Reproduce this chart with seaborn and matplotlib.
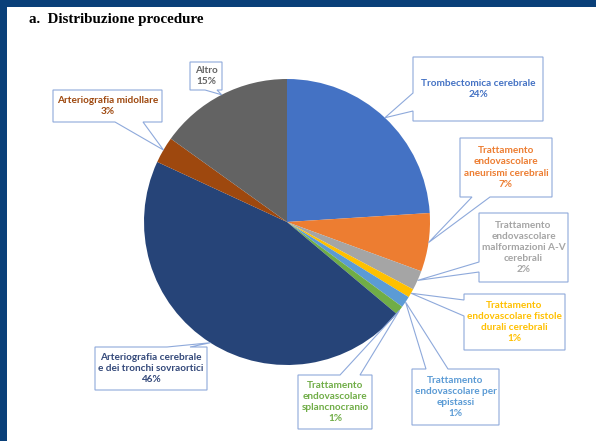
import numpy as np
import matplotlib
matplotlib.use("Agg")
import matplotlib.pyplot as plt
import seaborn as sns
from matplotlib.patches import Rectangle, Polygon

# ---------------- data ----------------
categories = [
    "Trombectomica cerebrale",
    "Trattamento\nendovascolare\naneurismi cerebrali",
    "Trattamento\nendovascolare\nmalformazioni A-V\ncerebrali",
    "Trattamento\nendovascolare fistole\ndurali cerebrali",
    "Trattamento\nendovascolare per\nepistassi",
    "Trattamento\nendovascolare\nsplancnocranio",
    "Arteriografia cerebrale\ne dei tronchi sovraortici",
    "Arteriografia midollare",
    "Altro",
]
values = [24.0, 6.6, 2.2, 1.0, 1.3, 1.0, 45.8, 3.0, 15.1]
pct_labels = ["24%", "7%", "2%", "1%", "1%", "1%", "46%", "3%", "15%"]
title = "a.  Distribuzione procedure"

slice_colors = ["#4472C4", "#ED7D31", "#A5A5A5", "#FFC000", "#5B9BD5",
                "#70AD47", "#264478", "#9E480E", "#636363"]
text_colors = ["#4472C4", "#ED7D31", "#A5A5A5", "#FFC000", "#5B9BD5",
               "#70AD47", "#34497A", "#9E480E", "#636363"]

# label boxes (image px: x0, y0, x1, y1) and callout base (side, a, b)
boxes = [
    (413, 57, 543, 121), (460, 138, 552, 197), (479, 213, 568, 282),
    (464, 294, 565, 350), (412, 369, 499, 425), (298, 375, 372, 429),
    (95, 347, 207, 390), (53, 90, 162, 122), (190, 62, 222, 90),
]
bases = [
    ("left", 93, 111), ("bottom", 472, 490), ("left", 262, 272),
    ("left", 300, 316), ("top", 426, 448), ("top", 340, 360),
    ("top", 167, 190), ("bottom", 115, 143), ("bottom", 205, 217),
]

W, H = 596, 441
sns.set_theme(style="white")
plt.rcParams["font.family"] = ["Lato", "DejaVu Sans"]

fig = plt.figure(figsize=(W / 100, H / 100), dpi=100)
fig.patch.set_facecolor("white")

# pie axes: centre (287,222) px, radius 143 px
cx, cy, r = 287, 222, 143
ax = fig.add_axes([(cx - r) / W, (H - cy - r) / H, 2 * r / W, 2 * r / H])
wedges, _ = ax.pie(values, colors=slice_colors, startangle=90, counterclock=False,
                   radius=1.0, wedgeprops=dict(linewidth=0))
ax.set_xlim(-1, 1)
ax.set_ylim(-1, 1)
ax.set_axis_off()

def img2fig(x, y):
    return (x / W, 1 - y / H)

to_fig = ax.transData + fig.transFigure.inverted()
edge_col = "#8EA9DB"

for i, w in enumerate(wedges):
    mid = np.deg2rad((w.theta1 + w.theta2) / 2)
    anchor = to_fig.transform((np.cos(mid), np.sin(mid)))
    x0, y0, x1, y1 = boxes[i]
    side, a, b = bases[i]
    TL, TR, BR, BL = img2fig(x0, y0), img2fig(x1, y0), img2fig(x1, y1), img2fig(x0, y1)
    if side == "top":
        pts = [TL, img2fig(a, y0), anchor, img2fig(b, y0), TR, BR, BL]
    elif side == "right":
        pts = [TL, TR, img2fig(x1, a), anchor, img2fig(x1, b), BR, BL]
    elif side == "bottom":
        pts = [TL, TR, BR, img2fig(b, y1), anchor, img2fig(a, y1), BL]
    else:
        pts = [TL, TR, BR, BL, img2fig(x0, b), anchor, img2fig(x0, a)]
    poly = Polygon(pts, closed=True, facecolor="none", edgecolor=edge_col,
                   linewidth=0.8, transform=fig.transFigure, clip_on=False)
    fig.add_artist(poly)
    tx, ty = img2fig((x0 + x1) / 2, (y0 + y1) / 2)
    fig.text(tx, ty, categories[i] + "\n" + pct_labels[i], ha="center", va="center",
             fontsize=7.2, fontweight="bold", color=text_colors[i], linespacing=1.32)

# frame bands
frame = "#0A4079"
fig.add_artist(Rectangle((0, 1 - 7 / H), 1, 7 / H, transform=fig.transFigure,
                         facecolor=frame, edgecolor="none"))
fig.add_artist(Rectangle((0, 0), 7 / W, 1, transform=fig.transFigure,
                         facecolor=frame, edgecolor="none"))

fig.text(29 / W, 1 - 19.5 / H, title, ha="left", va="center",
         family=["Liberation Serif", "DejaVu Serif"], fontweight="bold",
         fontsize=10.8, color="black")

fig.savefig("out.png", dpi=100)
